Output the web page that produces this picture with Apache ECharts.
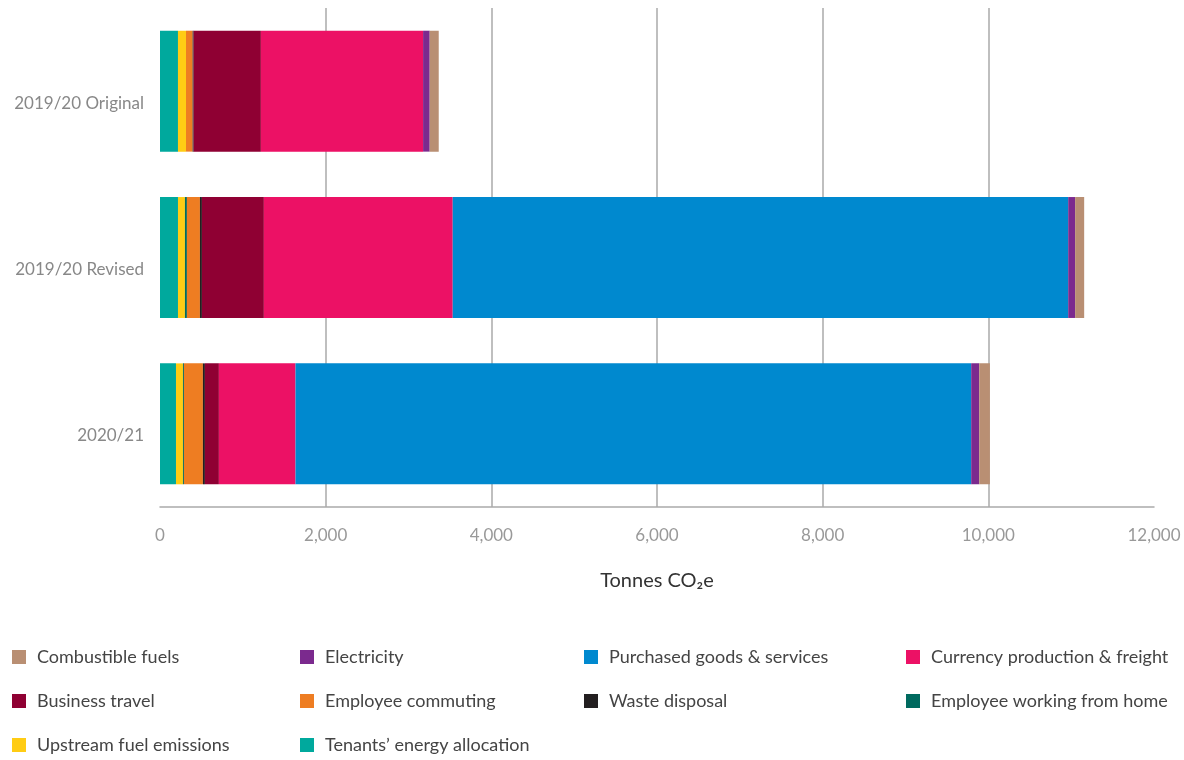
<!DOCTYPE html>
<html><head><meta charset="utf-8">
<script src="https://cdn.jsdelivr.net/npm/echarts@6/dist/echarts.min.js"></script>
<style>html,body{margin:0;padding:0;background:#fff}#c{width:1184px;height:760px}</style>
</head><body><div id="c"></div>
<script>
const categories = ['2019/20 Original', '2019/20 Revised', '2020/21'];
const xTicks = [0, 2000, 4000, 6000, 8000, 10000, 12000];
// stacked left to right
const tenants     = [217, 217, 193];
const upstream    = [97, 84, 84];
const wfh         = [0, 24, 12];
const commuting   = [80, 157, 229];
const waste       = [12, 24, 24];
const business    = [812, 748, 169];
const currency    = [1958, 2280, 925];
const purchased   = [0, 7430, 8157];
const electricity = [80, 84, 97];
const combustible = [109, 109, 129];

const seriesDefs = [
  ["Tenants’ energy allocation", tenants, '#00a99d'],
  ['Upstream fuel emissions', upstream, '#ffcc14'],
  ['Employee working from home', wfh, '#006a5f'],
  ['Employee commuting', commuting, '#ee7d22'],
  ['Waste disposal', waste, '#231f20'],
  ['Business travel', business, '#8f0033'],
  ['Currency production & freight', currency, '#ec1165'],
  ['Purchased goods & services', purchased, '#0089cf'],
  ['Electricity', electricity, '#7b2a8e'],
  ['Combustible fuels', combustible, '#b98f73']
];

const chart = echarts.init(document.getElementById('c'));
const font = 'Lato, "Open Sans", sans-serif';
const legendCols = [
  {left: 12, data: ['Combustible fuels', 'Business travel', 'Upstream fuel emissions']},
  {left: 300, data: ['Electricity', 'Employee commuting', "Tenants’ energy allocation"]},
  {left: 584, data: ['Purchased goods & services', 'Waste disposal']},
  {left: 906, data: ['Currency production & freight', 'Employee working from home']}
];
const gridColors = xTicks.map((v, i) => (i === 0 || i === xTicks.length - 1) ? 'rgba(0,0,0,0)' : '#aaa');
chart.setOption({
  animation: false,
  textStyle: {fontFamily: font},
  grid: {left: 160, right: 30, top: 8, height: 499, containLabel: false},
  legend: legendCols.map(c => ({
    left: c.left, top: 646, height: 120, width: 280, orient: 'vertical',
    itemWidth: 14, itemHeight: 14, itemGap: 22, padding: 0,
    icon: 'rect', data: c.data, selectedMode: false,
    textStyle: {fontSize: 18, lineHeight: 22, color: '#444', fontFamily: font, padding: [0, 0, 0, 6]}
  })),
  xAxis: {
    type: 'value', min: 0, max: 12000, interval: 2000,
    name: 'Tonnes CO₂e', nameLocation: 'middle', nameGap: 64,
    nameTextStyle: {fontSize: 20, color: '#333', fontFamily: font},
    axisLine: {show: true, lineStyle: {color: '#aaa', width: 1.5}},
    axisTick: {show: false},
    axisLabel: {fontSize: 17, color: '#999', margin: 20, formatter: v => v.toLocaleString('en-US')},
    splitLine: {show: true, lineStyle: {color: gridColors, width: 1.5}}
  },
  yAxis: {
    type: 'category', data: categories, inverse: true,
    axisLine: {show: false}, axisTick: {show: false},
    axisLabel: {fontSize: 17, color: '#888', margin: 16, lineHeight: 24, formatter: v => '\n' + v}
  },
  series: seriesDefs.map(([name, data, color]) => ({
    name, type: 'bar', stack: 'total', data, barWidth: '72.7%',
    itemStyle: {color}
  }))
});
</script></body></html>
